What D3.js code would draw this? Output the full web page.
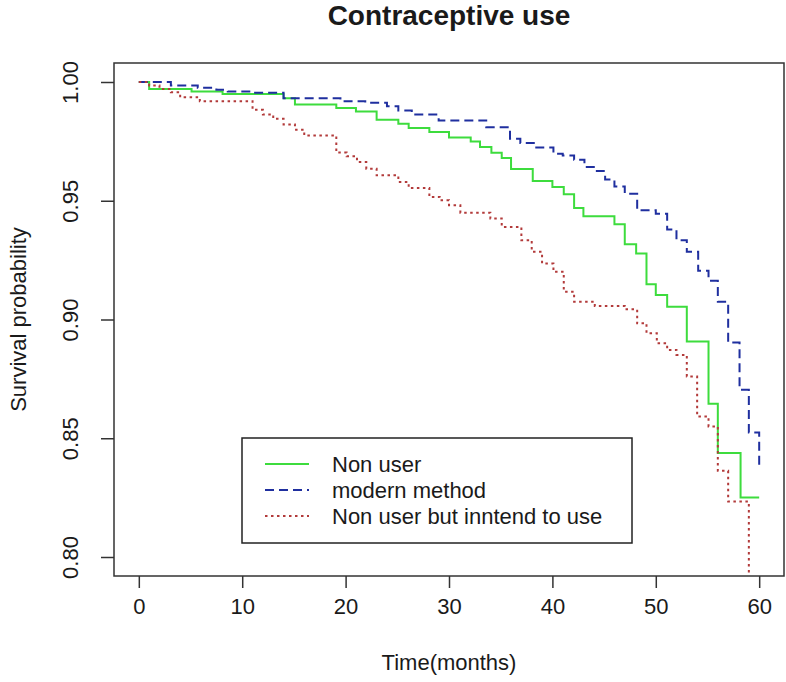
<!DOCTYPE html>
<html>
<head>
<meta charset="utf-8">
<script src="https://cdn.jsdelivr.net/npm/d3@7"></script>
<style>
  body { margin: 0; background: #fff; }
  text { font-family: "Liberation Sans", Arial, sans-serif; fill: #1a1a1a; }
</style>
</head>
<body>
<div id="chart"></div>
<script>
// Kaplan-Meier step curves
const nonUserTime = [0, 1.0, 5.1, 8.1, 14.0, 15.1, 19.1, 21.0, 23.0, 25.1, 26.1, 28.1, 30.0, 32.1, 33.0, 34.1, 35.1, 36.0, 38.1, 40.0, 41.1, 42.1, 43.0, 46.0, 47.0, 48.1, 49.1, 50.0, 51.1, 53.0, 55.1, 56.0, 58.2, 60];
const nonUserSurv = [1, 0.9971, 0.996, 0.995, 0.9932, 0.9905, 0.9891, 0.9876, 0.9841, 0.9824, 0.9806, 0.9789, 0.9766, 0.975, 0.9726, 0.9702, 0.968, 0.9634, 0.9583, 0.9558, 0.9527, 0.947, 0.9435, 0.9401, 0.9317, 0.9278, 0.9148, 0.9103, 0.9054, 0.8907, 0.8645, 0.8438, 0.8251, 0.8251];

const modernTime = [0, 3.1, 5.7, 7.5, 8.6, 10.9, 14.0, 19.5, 21.9, 24.0, 25.1, 26.4, 29.0, 33.6, 35.9, 36.9, 38.2, 40.1, 41.0, 42.1, 43.1, 44.3, 45.1, 46.0, 47.0, 48.2, 50.0, 51.1, 52.0, 53.0, 54.1, 55.1, 56.0, 57.0, 58.1, 59.0, 60.0, 60];
const modernSurv = [1, 0.9985, 0.9976, 0.9967, 0.996, 0.9955, 0.9932, 0.9919, 0.9913, 0.9898, 0.988, 0.9863, 0.9838, 0.981, 0.9761, 0.9743, 0.9724, 0.9698, 0.9691, 0.9673, 0.9642, 0.9625, 0.959, 0.956, 0.953, 0.946, 0.9445, 0.9379, 0.9334, 0.9285, 0.9205, 0.9163, 0.9075, 0.8903, 0.8704, 0.8524, 0.838, 0.838];

const intendTime = [0, 1.0, 2.0, 3.1, 4.0, 5.9, 11.0, 12.0, 13.0, 14.0, 15.1, 16.0, 19.1, 20.1, 21.1, 22.0, 23.0, 25.1, 26.1, 28.1, 29.1, 30.0, 31.1, 34.0, 35.1, 37.0, 38.0, 39.0, 40.1, 41.1, 42.1, 44.1, 47.0, 48.2, 49.1, 50.1, 51.1, 52.0, 53.0, 54.0, 55.1, 56.0, 57.0, 59.0];
const intendSurv = [1, 0.9985, 0.9971, 0.9957, 0.9936, 0.9919, 0.9883, 0.9863, 0.9845, 0.9821, 0.9799, 0.9775, 0.9703, 0.9687, 0.9663, 0.9635, 0.9607, 0.9579, 0.9554, 0.9516, 0.9502, 0.9481, 0.945, 0.9425, 0.939, 0.9334, 0.9285, 0.9236, 0.9201, 0.9117, 0.9075, 0.9057, 0.9043, 0.8984, 0.8942, 0.89, 0.8872, 0.8851, 0.876, 0.8592, 0.855, 0.8363, 0.8234, 0.78];

const seriesNames = ['Non user', 'modern method', 'Non user but inntend to use'];
const xTicks = [0, 10, 20, 30, 40, 50, 60];
const yTicks = [0.80, 0.85, 0.90, 0.95, 1.00];

const w = 786, h = 682;
const box = { left: 114, right: 784, top: 63, bottom: 576 };

const svg = d3.select('#chart').append('svg')
    .attr('width', w)
    .attr('height', h);

// R-style 4% padding round xlim = c(0,60), ylim = c(0.8,1)
const x = d3.scaleLinear().domain([-2.4, 62.4]).range([box.left, box.right]);
const y = d3.scaleLinear().domain([0.792, 1.008]).range([box.bottom, box.top]);

svg.append('clipPath').attr('id', 'plotclip')
  .append('rect')
    .attr('x', box.left).attr('y', box.top)
    .attr('width', box.right - box.left).attr('height', box.bottom - box.top);

const series = [
    { name: seriesNames[0], t: nonUserTime, s: nonUserSurv, color: '#3ddc3d', dash: null },
    { name: seriesNames[1], t: modernTime, s: modernSurv, color: '#1f2f9f', dash: '9,5' },
    { name: seriesNames[2], t: intendTime, s: intendSurv, color: '#b23a3a', dash: '2.5,3.5' }
];

const line = d3.line()
    .x(d => x(d[0]))
    .y(d => y(d[1]))
    .curve(d3.curveStepAfter);

const curves = svg.append('g').attr('clip-path', 'url(#plotclip)');

series.forEach(sr => {
    curves.append('path')
        .datum(d3.zip(sr.t, sr.s))
        .attr('d', line)
        .attr('fill', 'none')
        .attr('stroke', sr.color)
        .attr('stroke-width', 2)
        .attr('stroke-dasharray', sr.dash);
});

// box
svg.append('rect')
    .attr('x', box.left).attr('y', box.top)
    .attr('width', box.right - box.left).attr('height', box.bottom - box.top)
    .attr('fill', 'none')
    .attr('stroke', '#333')
    .attr('stroke-width', 1.5);

// x axis
const xAxis = svg.append('g')
    .attr('transform', `translate(0,${box.bottom})`)
    .call(d3.axisBottom(x).tickValues(xTicks).tickSize(12).tickPadding(10).tickFormat(d3.format('d')));
xAxis.select('.domain').remove();
xAxis.selectAll('line').attr('stroke', '#333').attr('stroke-width', 1.5);
xAxis.selectAll('text').style('font-size', '22px').attr('fill', '#1a1a1a');

// y axis, labels parallel to the axis (tick groups are already at y(d))
const yAxis = svg.append('g')
    .attr('transform', `translate(${box.left},0)`)
    .call(d3.axisLeft(y).tickValues(yTicks).tickSize(13).tickFormat(d3.format('.2f')));
yAxis.select('.domain').remove();
yAxis.selectAll('line').attr('stroke', '#333').attr('stroke-width', 1.5);
yAxis.selectAll('text')
    .style('font-size', '22px')
    .attr('fill', '#1a1a1a')
    .attr('x', null).attr('y', null).attr('dy', null)
    .attr('text-anchor', 'middle')
    .attr('transform', `translate(${78 - box.left},0) rotate(-90)`);

// titles
svg.append('text')
    .attr('x', (box.left + box.right) / 2)
    .attr('y', 25)
    .attr('text-anchor', 'middle')
    .style('font-size', '28px')
    .style('font-weight', 'bold')
    .text('Contraceptive use');

svg.append('text')
    .attr('x', (box.left + box.right) / 2)
    .attr('y', 670)
    .attr('text-anchor', 'middle')
    .style('font-size', '22px')
    .text('Time(months)');

svg.append('text')
    .attr('transform', `translate(26,${(box.top + box.bottom) / 2}) rotate(-90)`)
    .attr('text-anchor', 'middle')
    .style('font-size', '22px')
    .text('Survival probability');

// legend
const legend = svg.append('g');
legend.append('rect')
    .attr('x', 242).attr('y', 438)
    .attr('width', 390).attr('height', 105)
    .attr('fill', '#fff')
    .attr('stroke', '#222')
    .attr('stroke-width', 1.5);

series.forEach((sr, i) => {
    const ly = 464 + i * 26;
    legend.append('line')
        .attr('x1', 265).attr('x2', 309)
        .attr('y1', ly).attr('y2', ly)
        .attr('stroke', sr.color)
        .attr('stroke-width', 2)
        .attr('stroke-dasharray', sr.dash);
    legend.append('text')
        .attr('x', 332).attr('y', ly)
        .attr('dy', '0.35em')
        .style('font-size', '22px')
        .text(sr.name);
});
</script>
</body>
</html>
